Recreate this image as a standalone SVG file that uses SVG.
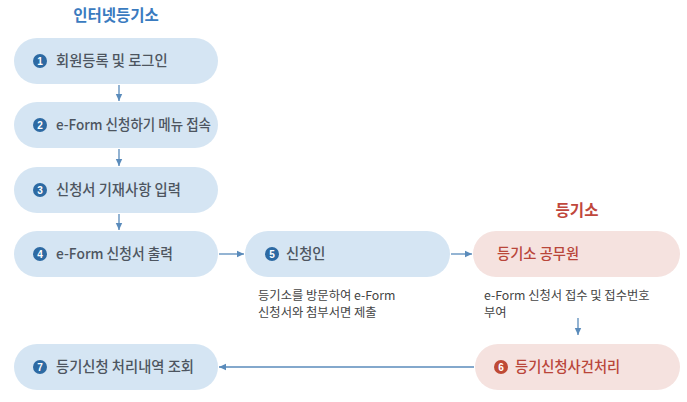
<svg xmlns="http://www.w3.org/2000/svg" width="687" height="402" viewBox="0 0 687 402">
<style>
.pb{fill:#d5e5f3}
.pr{fill:#f5e2df}
.t{font-family:"Noto Sans CJK KR","Noto Sans",sans-serif;font-size:14.3px;font-weight:500;fill:#4d5560}
.tr{font-family:"Noto Sans CJK KR","Noto Sans",sans-serif;font-size:14.3px;font-weight:500;fill:#b9463a}
.cb{fill:#2d6aa3}
.cr{fill:#bf4a35}
.n{font-family:"Liberation Sans",sans-serif;font-size:10px;font-weight:bold;fill:#fff;text-anchor:middle}
.d{font-family:"Noto Sans CJK KR","Noto Sans",sans-serif;font-size:12.3px;fill:#444}
.h{font-family:"Noto Sans CJK KR","Noto Sans",sans-serif;font-size:15.5px;font-weight:bold;text-anchor:middle}
.c{stroke:#5a8bbb;stroke-width:1.3;fill:none;marker-end:url(#a)}
</style>
<defs>
<marker id="a" markerWidth="8" markerHeight="8" refX="7" refY="4" orient="auto" markerUnits="userSpaceOnUse">
<path d="M0,0.8 L7,4 L0,7.2 Z" fill="#5a8bbb"/>
</marker>
</defs>
<text class="h" x="116" y="21" fill="#3a7bbf">인터넷등기소</text>
<text class="h" x="577" y="216" fill="#c0473c">등기소</text>
<g id="n1"><rect class="pb" x="14" y="38" width="204" height="46" rx="23"/><circle class="cb" cx="40" cy="61" r="7"/><text class="n" x="40" y="64.5">1</text><text class="t" x="56" y="66">회원등록 및 로그인</text></g>
<g id="n2"><rect class="pb" x="14" y="102" width="204" height="46" rx="23"/><circle class="cb" cx="40" cy="125" r="7"/><text class="n" x="40" y="128.5">2</text><text class="t" x="56" y="130" textLength="155" lengthAdjust="spacingAndGlyphs">e-Form 신청하기 메뉴 접속</text></g>
<g id="n3"><rect class="pb" x="14" y="167" width="204" height="46" rx="23"/><circle class="cb" cx="40" cy="190" r="7"/><text class="n" x="40" y="193.5">3</text><text class="t" x="56" y="195">신청서 기재사항 입력</text></g>
<g id="n4"><rect class="pb" x="14" y="231" width="204" height="46" rx="23"/><circle class="cb" cx="40" cy="254" r="7"/><text class="n" x="40" y="257.5">4</text><text class="t" x="56" y="259" textLength="117" lengthAdjust="spacingAndGlyphs">e-Form 신청서 출력</text></g>
<g id="n5"><rect class="pb" x="245" y="231" width="205" height="46" rx="23"/><circle class="cb" cx="272" cy="254" r="7"/><text class="n" x="272" y="257.5">5</text><text class="t" x="286" y="259">신청인</text>
<text class="d" x="258" y="300">등기소를 방문하여 e-Form</text><text class="d" x="258" y="317">신청서와 첨부서면 제출</text></g>
<g id="n8"><rect class="pr" x="473" y="231" width="207" height="46" rx="23"/><text class="tr" x="497" y="259">등기소 공무원</text>
<text class="d" x="484" y="300">e-Form 신청서 접수 및 접수번호</text><text class="d" x="484" y="317">부여</text></g>
<g id="n6"><rect class="pr" x="475" y="344" width="205" height="46" rx="23"/><circle class="cr" cx="501" cy="367" r="7"/><text class="n" x="501" y="370.5">6</text><text class="tr" x="515" y="372">등기신청사건처리</text></g>
<g id="n7"><rect class="pb" x="14" y="344" width="204" height="46" rx="23"/><circle class="cb" cx="40" cy="367" r="7"/><text class="n" x="40" y="370.5">7</text><text class="t" x="56" y="372">등기신청 처리내역 조회</text></g>
<g id="connectors">
<path class="c" d="M119,85 V101"/>
<path class="c" d="M119,149 V166"/>
<path class="c" d="M119,214 V230"/>
<path class="c" d="M219,254 H244"/>
<path class="c" d="M451,254 H472"/>
<path class="c" d="M578,318 V335"/>
<path class="c" d="M474,367 H219"/>
</g>
</svg>
